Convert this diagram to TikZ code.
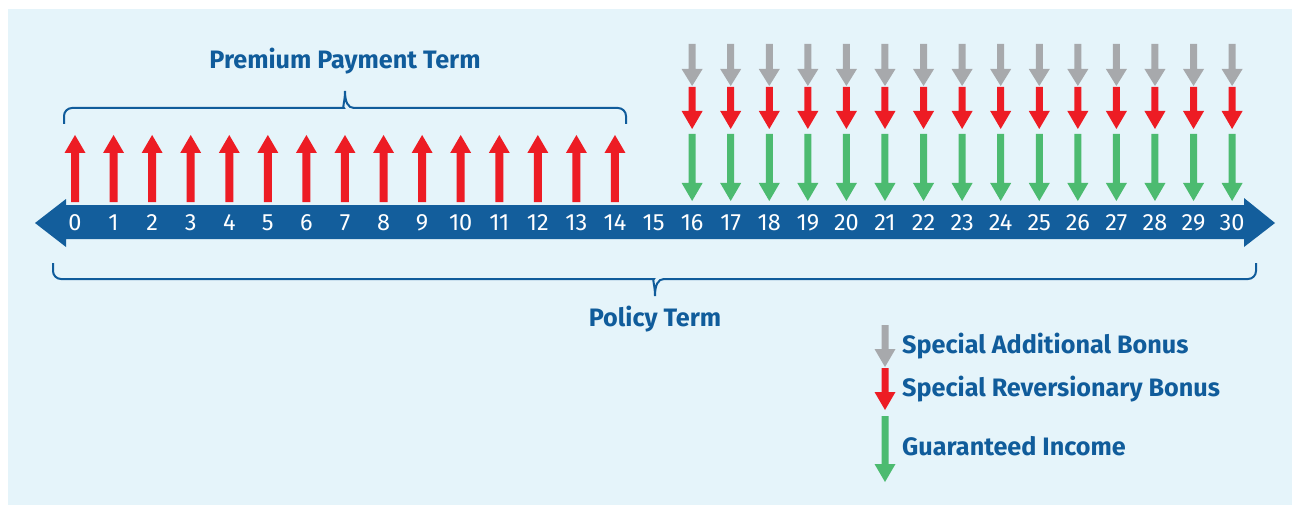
\documentclass[tikz,border=0pt]{standalone}
\usepackage{fontspec}
\setmainfont{Fira Sans}
\definecolor{bgblue}{HTML}{E5F4FA}
\definecolor{barblue}{HTML}{135E9C}
\definecolor{txtblue}{HTML}{105C9B}
\definecolor{arred}{HTML}{ED1C24}
\definecolor{argray}{HTML}{A7A9AC}
\definecolor{argreen}{HTML}{4CBB70}
\newcommand\shaftarrow[6]{% x, shaft start, head start, tip, shaft width, colour
  \fill[#6] ({#1-#5/2},#2) -- ({#1+#5/2},#2) -- ({#1+#5/2},#3) -- ({#1+10.5},#3)
    -- (#1,#4) -- ({#1-10.5},#3) -- ({#1-#5/2},#3) -- cycle;}
\begin{document}
\begin{tikzpicture}[x=1pt,y=-1pt,
  numlbl/.style={text=white,font=\fontsize{23.5}{23.5}\selectfont,anchor=base,inner sep=0pt},
  termlbl/.style={text=txtblue,font=\bfseries\fontsize{25.2}{25.2}\selectfont,anchor=base,inner sep=0pt},
  legendlbl/.style={text=txtblue,font=\bfseries\fontsize{25.2}{25.2}\selectfont,anchor=base west,inner sep=0pt},
  bracepath/.style={draw=txtblue,line width=2pt,rounded corners=8pt}]
\useasboundingbox (0,0) rectangle (1292,505);
\fill[bgblue] (8,9) rectangle (1292,505);
% timeline bar
\fill[barblue] (35,223) -- (66,199) -- (66,205) -- (1244,205) -- (1244,198) -- (1275,223)
  -- (1244,247) -- (1244,239) -- (66,239) -- (66,247) -- cycle;
\foreach \i in {0,...,30}{
  \pgfmathsetmacro\xx{75+38.57*\i}
  \node[numlbl] (n\i) at (\xx,230) {\i};
}
% premium arrows (up)
\foreach \i in {0,...,14}{
  \pgfmathsetmacro\xx{75+38.57*\i}
  \shaftarrow{\xx}{202}{153}{135}{8}{arred}
}
% benefit arrows (down)
\foreach \i in {16,...,30}{
  \pgfmathsetmacro\xx{75+38.57*\i}
  \shaftarrow{\xx}{44}{69}{86}{7}{argray}
  \shaftarrow{\xx}{87}{111}{129}{7}{arred}
  \shaftarrow{\xx}{134}{183}{201}{7}{argreen}
}
% premium payment term brace
\draw[bracepath] (64,124) -- (64,108) -- (336,108) [sharp corners]
  .. controls (342,108) and (345,102) .. (345,91)
  .. controls (345,102) and (348,108) .. (354,108) [rounded corners=8pt] -- (626,108) -- (626,124);
\node[termlbl] (ppt) at (345,69) {Premium Payment Term};
% policy term brace
\draw[bracepath] (53,263) -- (53,279) -- (646,279) [sharp corners]
  .. controls (652,279) and (655,285) .. (655,296)
  .. controls (655,285) and (658,279) .. (664,279) [rounded corners=8pt] -- (1256,279) -- (1256,263);
\node[termlbl] (pt) at (655,326) {Policy Term};
% legend
\shaftarrow{885}{325}{349}{367}{7}{argray}
\shaftarrow{885}{368}{392}{410}{7}{arred}
\shaftarrow{885}{416}{464}{482}{7}{argreen}
\node[legendlbl] (l1) at (902,353) {Special Additional Bonus};
\node[legendlbl] (l2) at (902,396) {Special Reversionary Bonus};
\node[legendlbl] (l3) at (902,455) {Guaranteed Income};
\end{tikzpicture}
\end{document}
